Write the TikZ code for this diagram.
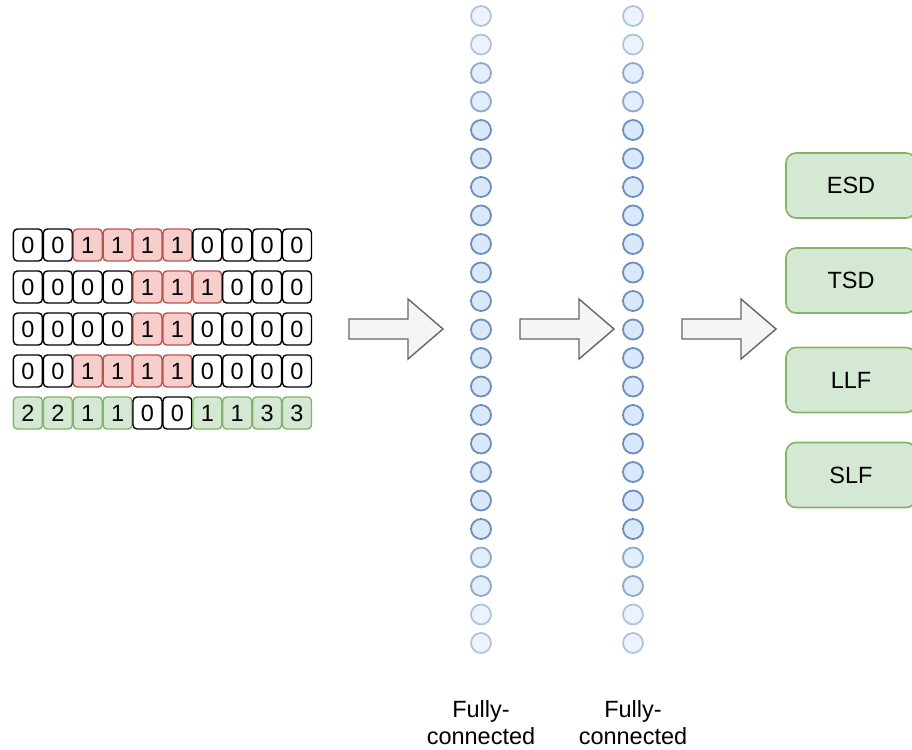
\documentclass[tikz,border=0pt]{standalone}
\usepackage{fontspec}
\setmainfont{Liberation Sans}
\definecolor{redfill}{HTML}{F8CECC}
\definecolor{redline}{HTML}{B85450}
\definecolor{greenfill}{HTML}{D5E8D4}
\definecolor{greenline}{HTML}{82B366}
\definecolor{bluefill}{HTML}{DAE8FC}
\definecolor{blueline}{HTML}{6C8EBF}
\definecolor{arrowfill}{HTML}{F5F5F5}
\definecolor{arrowline}{HTML}{666666}
\begin{document}
\begin{tikzpicture}
  [x=1pt,y=-1pt,every node/.style={font=\fontsize{23.5}{27}\selectfont},
   cw/.style={draw=black,fill=white,rounded corners=4pt,line width=1.4pt,minimum width=29pt,minimum height=32pt,inner sep=0pt},
   cr/.style={cw,draw=redline,fill=redfill},
   cg/.style={cw,draw=greenline,fill=greenfill},
   neuron/.style={circle,draw=blueline,fill=bluefill,line width=1.8pt,minimum size=20pt,inner sep=0pt},
   outbox/.style={draw=greenline,fill=greenfill,rounded corners=10pt,line width=1.6pt,minimum width=130pt,minimum height=65pt},
   blockarrow/.style={draw=arrowline,fill=arrowfill,line width=1.4pt}]
  \clip (0,0) rectangle (912,749);

  % input rows
  \foreach \v/\s [count=\i] in {0/cw,0/cw,1/cr,1/cr,1/cr,1/cr,0/cw,0/cw,0/cw,0/cw}
    \node[\s] (a\i) at ({-2+29.9*\i},245) {\v};
  \foreach \v/\s [count=\i] in {0/cw,0/cw,0/cw,0/cw,1/cr,1/cr,1/cr,0/cw,0/cw,0/cw}
    \node[\s] (b\i) at ({-2+29.9*\i},287) {\v};
  \foreach \v/\s [count=\i] in {0/cw,0/cw,0/cw,0/cw,1/cr,1/cr,0/cw,0/cw,0/cw,0/cw}
    \node[\s] (c\i) at ({-2+29.9*\i},329) {\v};
  \foreach \v/\s [count=\i] in {0/cw,0/cw,1/cr,1/cr,1/cr,1/cr,0/cw,0/cw,0/cw,0/cw}
    \node[\s] (d\i) at ({-2+29.9*\i},371) {\v};
  \foreach \v/\s [count=\i] in {2/cg,2/cg,1/cg,1/cg,0/cw,0/cw,1/cg,1/cg,3/cg,3/cg}
    \node[\s] (e\i) at ({-2+29.9*\i},413) {\v};

  % hidden layers
  \foreach \i in {1,...,23} {
    \pgfmathsetmacro\k{min(\i,24-\i)}
    \pgfmathsetmacro\op{\k<3 ? 0.5 : (\k<5 ? 0.75 : 1)}
    \node[neuron,opacity=\op] (h\i) at (481,{16+28.5*(\i-1)}) {};
    \node[neuron,opacity=\op] (g\i) at (633,{16+28.5*(\i-1)}) {};
  }
  \node[align=center] (fc1) at (481,723) {Fully-\\connected};
  \node[align=center] (fc2) at (633,723) {Fully-\\connected};

  % block arrows
  \foreach \x in {349,520,682}
    \draw[blockarrow] (\x,319) -- ++(59,0) -- ++(0,-20) -- ++(35,30) -- ++(-35,30) -- ++(0,-20) -- ++(-59,0) -- cycle;

  % outputs
  \node[outbox] (esd) at (851,185.5) {ESD};
  \node[outbox] (tsd) at (851,280.5) {TSD};
  \node[outbox] (llf) at (851,380) {LLF};
  \node[outbox] (slf) at (851,475) {SLF};
\end{tikzpicture}
\end{document}
